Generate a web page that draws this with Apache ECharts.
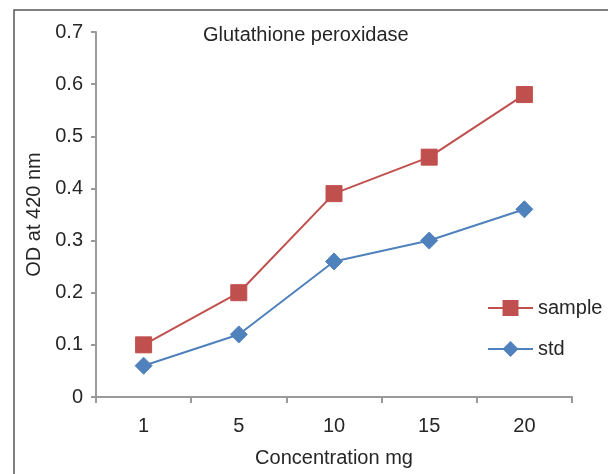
<!DOCTYPE html>
<html><head><meta charset="utf-8">
<script src="https://cdn.jsdelivr.net/npm/echarts@6/dist/echarts.min.js"></script>
<style>html,body{margin:0;padding:0;background:#fff}#c{width:608px;height:474px}</style>
</head><body><div id="c"></div>
<script>
const categories = ['1', '5', '10', '15', '20'];
const sampleValues = [0.10, 0.20, 0.39, 0.46, 0.58];
const stdValues = [0.06, 0.12, 0.26, 0.30, 0.36];
const titleText = 'Glutathione peroxidase';

const chart = echarts.init(document.getElementById('c'), null, {renderer: 'canvas'});
const font = 'Liberation Sans, Arial, sans-serif';
const txt = '#262626';
const axisCol = '#9a9a9a';
const fs = 20;
chart.setOption({
  animation: false,
  textStyle: {fontFamily: font},
  graphic: [{
    type: 'rect', shape: {x: 14, y: 10, width: 620, height: 500},
    style: {fill: 'none', stroke: '#555', lineWidth: 1.5}, silent: true
  }],
  title: {text: titleText, left: 198, top: 20,
    textStyle: {fontFamily: font, fontSize: fs, fontWeight: 'normal', color: txt}},
  legend: {
    orient: 'vertical', left: 482, top: 293, itemGap: 21,
    itemWidth: 45, itemHeight: 20,
    textStyle: {fontFamily: font, fontSize: fs, color: txt},
    data: ['sample', 'std']
  },
  grid: {left: 96, right: 36, top: 32, bottom: 77, containLabel: false},
  xAxis: {
    type: 'category', data: categories, boundaryGap: true,
    name: 'Concentration mg', nameLocation: 'middle', nameGap: 51,
    nameTextStyle: {fontFamily: font, fontSize: fs, color: txt},
    axisLine: {lineStyle: {color: axisCol, width: 2}},
    axisTick: {show: true, length: 6, lineStyle: {color: axisCol, width: 2}},
    axisLabel: {fontFamily: font, fontSize: fs, color: txt, margin: 19},
    splitLine: {show: false}
  },
  yAxis: {
    type: 'value', min: 0, max: 0.7, interval: 0.1,
    name: 'OD at 420 nm', nameLocation: 'middle', nameGap: 52, nameRotate: 90,
    nameTextStyle: {fontFamily: font, fontSize: fs, color: txt},
    axisLine: {show: true, lineStyle: {color: axisCol, width: 2}},
    axisTick: {show: true, length: 5, lineStyle: {color: axisCol, width: 2}},
    axisLabel: {fontFamily: font, fontSize: fs, color: txt, margin: 13,
      formatter: v => (v === 0 ? '0' : v.toFixed(1))},
    splitLine: {show: false}
  },
  series: [
    {name: 'sample', type: 'line', data: sampleValues,
      symbol: 'rect', symbolSize: 16,
      lineStyle: {color: '#C0504D', width: 2},
      itemStyle: {color: '#C0504D', borderColor: '#C0504D'}},
    {name: 'std', type: 'line', data: stdValues,
      symbol: 'diamond', symbolSize: 17,
      lineStyle: {color: '#4F81BD', width: 2},
      itemStyle: {color: '#4F81BD', borderColor: '#4F81BD'}}
  ]
});
</script></body></html>
